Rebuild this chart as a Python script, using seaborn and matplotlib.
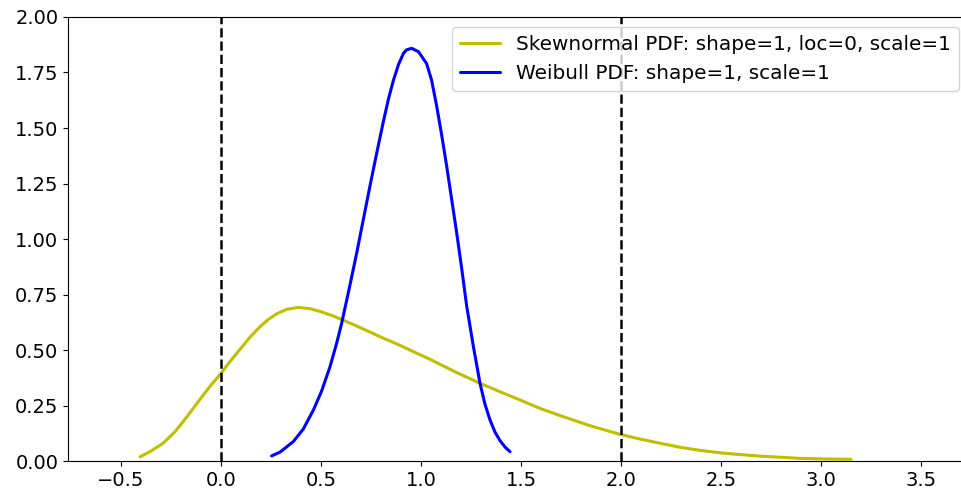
import pandas as pd
import matplotlib
matplotlib.use("Agg")
import matplotlib.pyplot as plt
import seaborn as sns

# values
skew_x = [-0.405, -0.355, -0.29, -0.23, -0.17, -0.13, -0.088, -0.047, 0.0, 0.045,
          0.095, 0.145, 0.195, 0.237, 0.28, 0.328, 0.387, 0.445, 0.495, 0.553,
          0.61, 0.678, 0.745, 0.812, 0.878, 0.978, 1.045, 1.17, 1.295, 1.395,
          1.495, 1.595, 1.71, 1.845, 1.995, 2.095, 2.195, 2.295, 2.395, 2.495,
          2.595, 2.695, 2.795, 2.895, 3.03, 3.15]
skew_y = [0.019, 0.042, 0.08, 0.132, 0.20, 0.248, 0.298, 0.345, 0.395, 0.448,
          0.503, 0.558, 0.605, 0.638, 0.664, 0.683, 0.692, 0.686, 0.674, 0.656,
          0.635, 0.608, 0.581, 0.553, 0.528, 0.486, 0.458, 0.402, 0.35, 0.312,
          0.275, 0.237, 0.20, 0.159, 0.12, 0.099, 0.08, 0.062, 0.048, 0.037,
          0.029, 0.022, 0.017, 0.012, 0.009, 0.008]

weib_x = [0.253, 0.295, 0.362, 0.412, 0.462, 0.503, 0.545, 0.578, 0.603, 0.637,
          0.678, 0.712, 0.745, 0.778, 0.812, 0.837, 0.862, 0.887, 0.912, 0.928,
          0.953, 0.987, 1.028, 1.053, 1.078, 1.103, 1.128, 1.153, 1.178, 1.203,
          1.228, 1.262, 1.295, 1.32, 1.345, 1.37, 1.395, 1.42, 1.445]
weib_y = [0.023, 0.04, 0.088, 0.145, 0.23, 0.315, 0.425, 0.53, 0.62, 0.76,
          0.935, 1.09, 1.24, 1.385, 1.53, 1.63, 1.715, 1.785, 1.836, 1.852,
          1.859, 1.844, 1.79, 1.715, 1.60, 1.47, 1.33, 1.18, 1.03, 0.87,
          0.70, 0.515, 0.35, 0.255, 0.185, 0.13, 0.092, 0.063, 0.042]

vline_x = [0, 2]
labels = ["Skewnormal PDF: shape=1, loc=0, scale=1", "Weibull PDF: shape=1, scale=1"]

skew = pd.DataFrame({"x": skew_x, "pdf": skew_y})
weib = pd.DataFrame({"x": weib_x, "pdf": weib_y})

sns.set_style("ticks", {"axes.edgecolor": "black", "text.color": "black",
                        "xtick.color": "black", "ytick.color": "black"})
plt.rcParams["font.size"] = 14
plt.rcParams["font.family"] = ["DejaVu Sans"]

fig = plt.figure(figsize=(9.62, 4.97), dpi=100)
ax = fig.add_axes([0.0707, 0.0724, 0.9366, 0.8934])

sns.lineplot(data=skew, x="x", y="pdf", color="y", lw=2.2,
             estimator=None, label=labels[0], ax=ax)
sns.lineplot(data=weib, x="x", y="pdf", color="b", lw=2.2,
             estimator=None, label=labels[1], ax=ax)
for v in vline_x:
    ax.axvline(v, color="black", ls="--", lw=1.8)

ax.set_xlim(-0.765, 3.74)
ax.set_ylim(0, 2.0)
ax.set_xticks([-0.5, 0.0, 0.5, 1.0, 1.5, 2.0, 2.5, 3.0, 3.5])
ax.set_yticks([0.0, 0.25, 0.5, 0.75, 1.0, 1.25, 1.5, 1.75, 2.0])
ax.set_yticklabels([f"{t:.2f}" for t in ax.get_yticks()])
ax.tick_params(labelsize=14, colors="black")
ax.set_xlabel("")
ax.set_ylabel("")
ax.spines["right"].set_visible(False)

ax.legend(loc="upper right", fontsize=14.4)

fig.savefig("out.png", dpi=100)
